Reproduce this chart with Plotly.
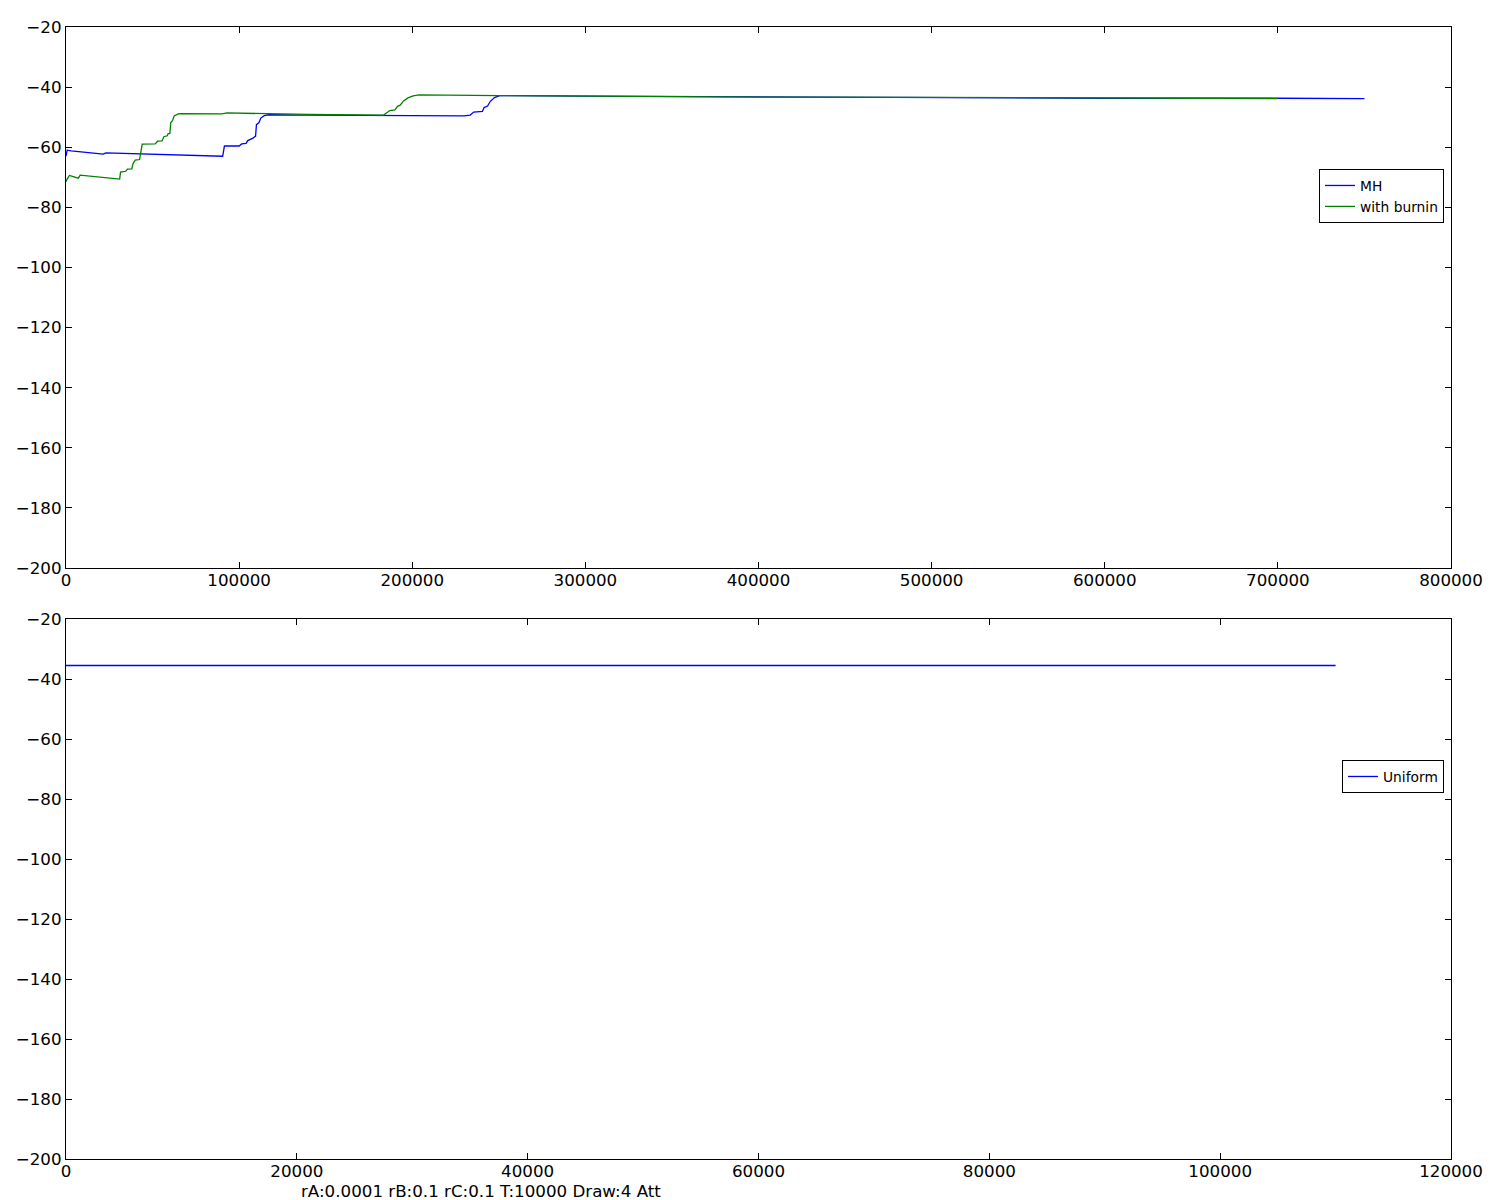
import plotly.graph_objects as go

# ---- data ----
mh_x = [0, 700, 3000, 21500, 23000, 88000, 90500, 91500, 100000, 101500, 104000, 105000,
        108000, 109500, 110000, 111500, 112500, 114500, 117000, 140000, 180000, 230000,
        233500, 235500, 240500, 241500, 243500, 245000, 247500, 250500, 300000, 400000,
        500000, 600000, 700000, 750000]
mh_y = [-63.0, -61.0, -61.2, -62.3, -61.9, -63.2, -63.0, -59.6, -59.6, -58.9, -58.7, -57.8,
        -57.0, -56.3, -52.5, -51.8, -50.3, -49.5, -49.2, -49.3, -49.4, -49.6,
        -49.3, -48.3, -48.1, -46.8, -46.3, -44.8, -43.5, -42.8, -43.0, -43.3,
        -43.4, -43.7, -43.7, -43.8]

burn_x = [0, 700, 2000, 4200, 7100, 8200, 31000, 31500, 34500, 35500, 38000, 38700, 40000,
          42500, 43000, 44000, 51500, 53000, 55500, 56500, 58500, 59000, 60000, 60500,
          61500, 62500, 64500, 66000, 90000, 93000, 140000, 183500, 187000, 190000, 191500,
          193000, 195000, 197500, 200500, 204000, 250000, 300000, 400000, 500000, 600000,
          700000]
burn_y = [-71.5, -70.5, -69.4, -69.8, -70.3, -69.3, -70.6, -68.3, -68.0, -67.3, -67.2, -65.5,
          -64.3, -64.1, -62.5, -59.0, -58.9, -58.0, -57.9, -56.5, -56.2, -55.5, -55.4, -51.8,
          -51.2, -49.6, -49.0, -48.8, -48.9, -48.6, -49.1, -49.3, -47.8, -47.6, -46.4,
          -46.0, -44.6, -43.6, -42.9, -42.6, -42.8, -43.0, -43.3, -43.4, -43.7,
          -43.8]

uni_x = [0, 110000]
uni_y = [-35.5, -35.5]

top_xticks = [0, 100000, 200000, 300000, 400000, 500000, 600000, 700000, 800000]
bot_xticks = [0, 20000, 40000, 60000, 80000, 100000, 120000]
yticks = [-200, -180, -160, -140, -120, -100, -80, -60, -40, -20]

caption = "rA:0.0001 rB:0.1 rC:0.1 T:10000 Draw:4 Att"

# The page body has an 8px margin, so the figure is drawn at (8, 8).
OFF = 8
W, H = 1500 - OFF, 1200 - OFF
FONT = "DejaVu Sans"
TICK_SIZE = 16.7


def px_x(p):
    return (p - OFF) / W


def px_y(p):
    return 1 - (p - OFF) / H


fig = go.Figure()
fig.add_trace(go.Scatter(x=mh_x, y=mh_y, mode="lines", name="MH",
                         line=dict(color="#0000FF", width=1.3),
                         xaxis="x", yaxis="y", legend="legend"))
fig.add_trace(go.Scatter(x=burn_x, y=burn_y, mode="lines", name="with burnin",
                         line=dict(color="#008000", width=1.3),
                         xaxis="x", yaxis="y", legend="legend"))
fig.add_trace(go.Scatter(x=uni_x, y=uni_y, mode="lines", name="Uniform",
                         line=dict(color="#0000FF", width=1.3),
                         xaxis="x2", yaxis="y2", legend="legend2"))

axis_common = dict(showline=True, linecolor="black", linewidth=1.2, mirror="ticks",
                   ticks="inside", ticklen=6, tickcolor="black", tickwidth=1,
                   showgrid=False, zeroline=False, automargin=False,
                   tickfont=dict(family=FONT, size=TICK_SIZE, color="black"))

xd = [px_x(66), px_x(1451)]
legend_common = dict(xanchor="right", yanchor="top",
                     bordercolor="black", borderwidth=1, bgcolor="white",
                     font=dict(family=FONT, size=13.8, color="black"),
                     tracegroupgap=0, itemwidth=30)
fig.update_layout(
    width=W, height=H,
    margin=dict(l=0, r=0, t=0, b=0, pad=0, autoexpand=False),
    paper_bgcolor="white", plot_bgcolor="white",
    font=dict(family=FONT, color="black"),
    xaxis=dict(domain=xd, range=[0, 800000], tickvals=top_xticks,
               ticktext=[str(v) for v in top_xticks], anchor="y",
               ticklabelstandoff=-3, **axis_common),
    yaxis=dict(domain=[px_y(568), px_y(27)], range=[-200, -20], tickvals=yticks,
               anchor="x", **axis_common),
    xaxis2=dict(domain=xd, range=[0, 120000], tickvals=bot_xticks,
                ticktext=[str(v) for v in bot_xticks], anchor="y2",
                ticklabelstandoff=-3, **axis_common),
    yaxis2=dict(domain=[px_y(1159), px_y(619)], range=[-200, -20], tickvals=yticks,
                anchor="x2", **axis_common),
    legend=dict(x=px_x(1444), y=px_y(169), **legend_common),
    legend2=dict(x=px_x(1444), y=px_y(760), **legend_common),
    showlegend=True,
    annotations=[dict(text=caption, x=px_x(300), y=px_y(1202), xref="paper", yref="paper",
                      xanchor="left", yanchor="bottom", showarrow=False, borderpad=0,
                      font=dict(family=FONT, size=TICK_SIZE, color="black"))],
)

fig.write_html("out.html")
